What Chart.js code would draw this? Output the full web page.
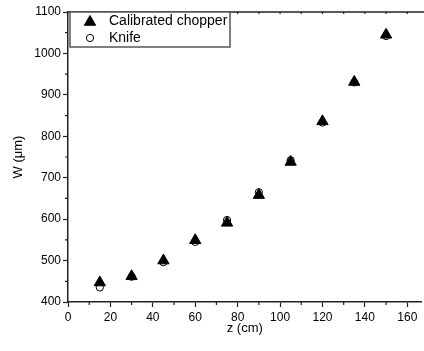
<!DOCTYPE html>
<html>
<head>
<meta charset="utf-8">
<script src="https://cdn.jsdelivr.net/npm/chart.js@4/dist/chart.umd.min.js"></script>
<style>
  html, body { margin: 0; padding: 0; background: #fff; overflow: hidden; }
  #wrap { width: 424px; height: 351px; overflow: hidden; }
</style>
</head>
<body>
<div id="wrap"><canvas id="myChart" width="429" height="351"></canvas></div>
<script>
(function(){

	"use strict";

// Data
	const zValues = [15, 30, 45, 60, 75, 90, 105, 120, 135, 150];
	const chopperW = [447, 462, 500, 549, 591, 658, 738, 836, 931, 1045];
	const knifeW = [435, 461, 496, 545, 598, 665, 742, 833, 930, 1042];
	const seriesNames = ["Calibrated chopper", "Knife"];
	const xMinorTicks = [10, 30, 50, 70, 90, 110, 130, 150, 170];
	const yMinorTicks = [450, 550, 650, 750, 850, 950, 1050];

	const fontFamily = "'Liberation Sans', Arial, sans-serif";
	const axisColor = "#222";

	function toPoints(xs, ys){
		return xs.map(function(x, i){ return {x: x, y: ys[i]}; });
	}

// Minor ticks, top frame line and the boxed legend
	const extrasPlugin = {
		id: "extras",
		afterDraw: function(chart){
			const ctx = chart.ctx;
			const area = chart.chartArea;
			const xs = chart.scales.x;
			const ys = chart.scales.y;
			ctx.save();
			ctx.strokeStyle = axisColor;
			ctx.lineWidth = 1.2;
			ctx.beginPath();
			xMinorTicks.forEach(function(v){
				const px = xs.getPixelForValue(v);
				if (px <= area.right + 1) {
					ctx.moveTo(px, area.bottom);
					ctx.lineTo(px, area.bottom + 3);
					ctx.moveTo(px, area.top);
					ctx.lineTo(px, area.top + 2);
				}
			});
			[20, 40, 60, 80, 100, 120, 140, 160].forEach(function(v){
				const px = xs.getPixelForValue(v);
				ctx.moveTo(px, area.top);
				ctx.lineTo(px, area.top + 2);
			});
			yMinorTicks.forEach(function(v){
				const py = ys.getPixelForValue(v);
				ctx.moveTo(area.left, py);
				ctx.lineTo(area.left - 3, py);
			});
			ctx.stroke();

			// top frame
			ctx.lineWidth = 1.5;
			ctx.beginPath();
			ctx.moveTo(area.left, area.top);
			ctx.lineTo(chart.width, area.top);
			ctx.stroke();

			// legend box
			const lx = area.left + 2, ly = area.top, lw = 160, lh = 35;
			ctx.fillStyle = "#fff";
			ctx.fillRect(lx, ly, lw, lh);
			ctx.strokeStyle = "#555";
			ctx.lineWidth = 1.5;
			ctx.strokeRect(lx, ly, lw, lh);

			ctx.font = "14px " + fontFamily;
			ctx.textBaseline = "middle";
			chart.data.datasets.forEach(function(ds, i){
				const cy = ly + 9 + i * 17;
				const cx = lx + 20;
				ctx.fillStyle = ds.backgroundColor;
				ctx.strokeStyle = ds.borderColor;
				ctx.lineWidth = ds.borderWidth;
				Chart.helpers.drawPoint(ctx, {
					pointStyle: ds.pointStyle,
					radius: ds.pointRadius,
					borderWidth: ds.borderWidth,
					rotation: 0
				}, cx, i === 0 ? cy + 1 : cy);
				ctx.fillStyle = "#000";
				ctx.fillText(ds.label, lx + 39, cy);
			});
			ctx.restore();
		}
	};

	const data = {
		datasets: [
		{
			label: seriesNames[0],
			data: toPoints(zValues, chopperW),
			pointStyle: "triangle",
			pointRadius: 6.5,
			backgroundColor: "#000",
			borderColor: "#000",
			borderWidth: 1,
			showLine: false
		},
		{
			label: seriesNames[1],
			data: toPoints(zValues, knifeW),
			pointStyle: "circle",
			pointRadius: 3.6,
			backgroundColor: "#fff",
			borderColor: "#000",
			borderWidth: 1,
			showLine: false
		}]
	};

	const config = {
		type: "scatter",
		data,
		options: {
			responsive: false,
			animation: false,
			events: [],
			layout: { padding: { top: 12, right: 0, left: 0, bottom: 0 } },
			plugins: {
				legend: { display: false },
				tooltip: { enabled: false }
			},
			scales: {
				x: {
					type: "linear",
					min: 0,
					max: 166.7,
					afterFit: function(scale){
						scale.height = 49;
						scale.paddingLeft = 0;
						scale.paddingRight = 0;
					},
					grid: { display: true, drawOnChartArea: false, tickLength: 5, color: axisColor, tickWidth: 1.2 },
					border: { display: true, color: axisColor, width: 1.5 },
					ticks: {
						stepSize: 20,
						includeBounds: false,
						maxRotation: 0,
						color: "#000",
						padding: 3,
						font: { family: fontFamily, size: 12 },
						callback: function(v){ return String(v); }
					},
					title: {
						display: true,
						text: "z (cm)",
						color: "#000",
						padding: { bottom: 15 },
						font: { family: fontFamily, size: 13 }
					}
				},
				y: {
					type: "linear",
					min: 400,
					max: 1100,
					afterFit: function(scale){
						scale.width = 68;
						scale.paddingTop = 0;
						scale.paddingBottom = 0;
					},
					grid: { display: true, drawOnChartArea: false, tickLength: 5, color: axisColor, tickWidth: 1.2 },
					border: { display: true, color: axisColor, width: 1.5 },
					ticks: {
						stepSize: 100,
						color: "#000",
						padding: 2,
						font: { family: fontFamily, size: 12 },
						callback: function(v){ return String(v); }
					},
					title: {
						display: true,
						text: "W (\u03bcm)",
						color: "#000",
						padding: { top: 11 },
						font: { family: fontFamily, size: 13 }
					}
				}
			}
		},
		plugins: [extrasPlugin]
	};

	new Chart(document.getElementById("myChart"), config);

})();
</script>
</body>
</html>
